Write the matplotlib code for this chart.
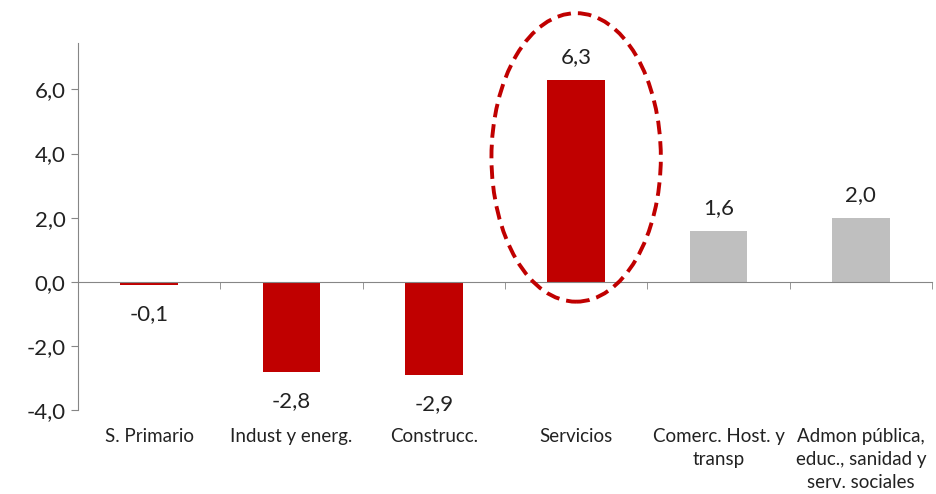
import matplotlib.pyplot as plt
from matplotlib.patches import Ellipse
from matplotlib.transforms import blended_transform_factory
import numpy as np

plt.rcParams['font.family'] = ['Lato', 'DejaVu Sans']

# datos
sectores = ["S. Primario", "Indust y energ.", "Construcc.", "Servicios",
            "Comerc. Host. y\ntransp", "Admon pública,\neduc., sanidad y\nserv. sociales"]
valores = [-0.1, -2.8, -2.9, 6.3, 1.6, 2.0]
colores = ["#C00000", "#C00000", "#C00000", "#C00000", "#BFBFBF", "#BFBFBF"]
etiquetas = ["-0,1", "-2,8", "-2,9", "6,3", "1,6", "2,0"]

fig = plt.figure(figsize=(9.36, 4.94), dpi=100)
ax = fig.add_axes([0.0833, 0.17, 0.9124, 0.743])

x = np.arange(len(sectores))
ax.bar(x, valores, width=0.405, color=colores, zorder=2)

ax.set_xlim(-0.5, len(sectores) - 0.5)
ax.set_ylim(-4, 7.45)
ax.set_yticks([-4, -2, 0, 2, 4, 6])
ax.set_yticklabels(["-4,0", "-2,0", "0,0", "2,0", "4,0", "6,0"], fontsize=16, color="#222222")

gris = "#868686"
for s in ["top", "right"]:
    ax.spines[s].set_visible(False)
ax.spines["left"].set_color(gris)
ax.spines["bottom"].set_color(gris)
ax.spines["bottom"].set_position(("data", 0))
ax.tick_params(axis="y", length=5, color=gris, pad=4)

# marcas del eje x en los limites de categoria
ax.set_xticks(x)
ax.tick_params(axis="x", which="major", length=0, labelbottom=False)
ax.set_xticks(np.arange(len(sectores) + 1) - 0.5, minor=True)
ax.tick_params(axis="x", which="minor", length=5, color=gris, direction="out")

trans = blended_transform_factory(ax.transData, ax.transAxes)
for i, s in enumerate(sectores):
    ax.text(i, -0.048, s, transform=trans, ha="center", va="top",
            fontsize=13.5, color="#222222", linespacing=1.45)

# etiquetas de valor
for i, v in enumerate(valores):
    if v >= 0:
        ax.annotate(etiquetas[i], (i, v), xytext=(0, 9), textcoords="offset points",
                    ha="center", va="bottom", fontsize=16, color="#222222")
    else:
        ax.annotate(etiquetas[i], (i, v), xytext=(0, -14), textcoords="offset points",
                    ha="center", va="top", fontsize=16, color="#222222")

# elipse destacando Servicios
elipse = Ellipse((3, 3.88), width=1.19, height=9.0, fill=False,
                 edgecolor="#C00000", linewidth=2.8, linestyle=(0, (3.5, 1.8)),
                 clip_on=False, zorder=3)
ax.add_patch(elipse)

fig.savefig("out.png", dpi=100)
